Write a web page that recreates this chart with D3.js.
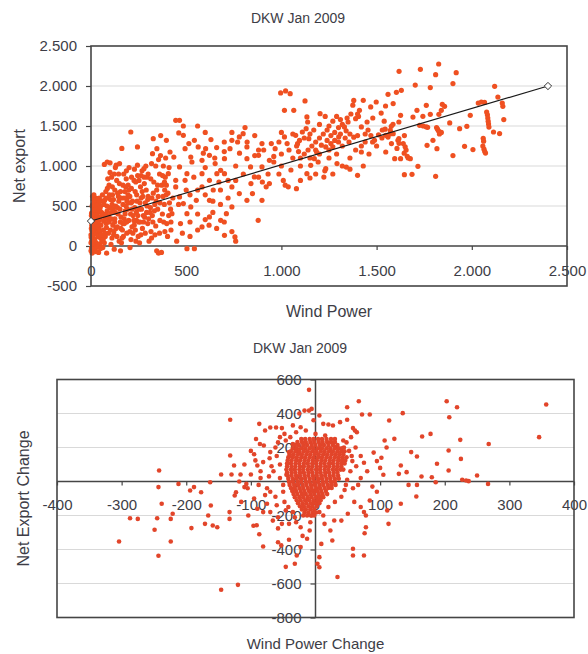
<!DOCTYPE html>
<html>
<head>
<meta charset="utf-8">
<script src="https://cdn.jsdelivr.net/npm/d3@7"></script>
<style>
  body { margin: 0; background: #fff; }
  svg { display: block; }
  text { font-family: "Liberation Sans", Arial, sans-serif; fill: #3d3d46; }
</style>
</head>
<body>
<svg id="chart" width="588" height="654"></svg>
<script>
// Hourly pairs for January 2009, DK West: [wind power, net export]
const powerVsExport = [
  // near-zero wind
  [0,-60],[5,-20],[10,20],[3,60],[12,100],[0,140],[8,180],[15,220],[4,260],[10,300],[18,340],[2,380],[9,420],[14,460],[6,500],[20,540],[11,580],[25,600],[30,560],[35,520],[28,480],[22,440],[32,400],[38,360],[26,320],[34,280],[40,240],[24,200],[30,160],[36,120],[20,80],[28,40],[16,0],[22,-40],[40,-80],[45,20],[50,100],[48,180],[52,260],[46,340],[55,420],[50,500],[58,560],[44,600],[6,-90],[0,40],[2,220],[8,620],[60,640],[15,640],
  [3,-30],[7,30],[12,70],[1,110],[17,150],[5,190],[13,250],[21,290],[7,330],[15,370],[3,410],[19,450],[27,490],[10,520],[23,570],[37,590],[42,550],[31,510],[47,470],[39,430],[25,390],[43,320],[31,240],[45,200],[53,140],[57,60],[35,-10],[26,-70],[50,-30],[57,380],
  // 60-300
  [62,-20],[70,40],[75,120],[65,200],[80,280],[72,360],[85,440],[68,520],[90,600],[78,680],[95,760],[88,840],[100,920],[82,-90],[96,300],[92,160],[98,480],[70,1020],[85,1050],[100,1040],
  [64,80],[73,160],[81,230],[67,310],[88,340],[76,400],[93,380],[84,500],[71,570],[97,640],[86,720],[103,580],[111,520],[117,460],[106,340],[124,300],[131,220],[119,140],[136,120],[102,200],[127,420],[139,480],[144,620],[125,700],[149,780],[155,680],[159,600],[152,460],[154,300],[157,220],[113,640],[108,860],[122,900],[65,400],[78,600],
  [105,20],[110,100],[120,180],[115,260],[125,340],[108,420],[130,500],[118,580],[140,660],[112,740],[135,820],[145,900],[128,980],[148,60],[138,240],[142,400],[132,1010],[150,1030],[122,-40],[146,560],
  [155,-60],[160,40],[170,120],[165,200],[175,280],[158,360],[180,440],[168,520],[190,600],[178,680],[195,760],[185,840],[172,900],[198,320],[188,160],[192,460],[162,1220],[200,980],[182,740],[196,540],
  [163,100],[167,280],[174,340],[179,400],[184,500],[189,560],[194,640],[199,700],[204,620],[211,540],[216,460],[221,380],[227,260],[233,200],[239,320],[246,380],[252,460],[257,540],[263,600],[269,680],[276,300],[282,360],[294,500],[298,580],[187,300],[173,600],[168,760],[186,940],[213,860],[226,820],[252,820],[263,880],[279,860],[204,180],[236,60],
  [205,-20],[210,80],[220,160],[215,240],[225,320],[208,400],[230,480],[218,560],[240,640],[212,720],[235,800],[245,880],[228,960],[209,1425],[248,120],[238,420],[242,560],[232,680],[244,1010],[250,300],
  [255,40],[262,140],[270,220],[258,300],[275,380],[265,460],[285,540],[272,620],[290,700],[280,780],[295,860],[268,940],[288,1000],[244,1238],[278,967],[298,280],[285,160],[292,420],[300,620],[260,740],
  // 300-420
  [305,60],[315,180],[325,300],[310,420],[335,520],[320,600],[345,700],[330,800],[360,900],[340,1000],[355,1080],[327,1342],[365,1130],[380,1000],[390,860],[372,760],[395,640],[385,520],[375,400],[398,280],[360,160],[345,-60],[355,-90],[370,-80],[392,1100],[366,1380],[318,1030],[350,460],[340,250],[388,180],
  [303,340],[312,480],[322,380],[333,440],[342,560],[353,620],[362,540],[378,620],[387,700],[396,760],[404,660],[412,540],[418,460],[408,380],[402,120],[382,300],[362,320],[336,140],[318,100],[327,660],[350,760],[376,880],[410,980],[300,900],[314,840],
  // 400-900
  [445,1571],[465,1571],[485,1500],[461,1413],[485,1383],[514,1280],[494,1217],[396,1321],[415,1175],[435,1112],[346,1217],[323,1154],[543,1321],[563,1238],[524,1112],[583,1071],[602,1217],[622,1134],[652,1030],[681,946],[740,1321],[770,1300],[730,1217],[701,1092],[799,1404],[809,1480],[779,1363],[819,1238],[701,904],[672,800],[642,700],[622,571],[583,738],[553,571],[524,488],[504,404],[445,738],[465,613],[485,530],[425,404],[406,904],[386,800],[445,821],[740,738],[779,655],[819,571],[848,655],[878,321],[740,488],[711,404],[681,321],[701,133],[756,113],[622,363],[583,238],[543,-33],[504,-33],[898,988],[937,1071],[898,571],[583,904],[622,821],[661,904],[504,904],[465,988],[494,821],[819,1092],[838,988],[858,863],
  [470,280],[520,300],[560,400],[600,330],[640,420],[680,520],[720,600],[760,820],[800,900],[840,780],[860,1130],[880,1200],[760,1000],[700,1180],[650,1100],[600,980],[540,860],[500,700],[460,520],[430,600],[420,300],[480,160],[520,120],[560,200],[620,260],[660,220],[700,300],[740,180],[760,60],[420,200],[450,60],[520,640],[560,700],[600,640],[640,560],[680,700],[720,820],[780,1160],[820,1300],[860,1380],[700,1300],[740,1420],[660,1230],[590,1160],[530,1050],[600,1420],[630,1330],[560,1500],
  // 900-1650
  [996,1913],[1022,1938],[1046,1904],[1016,1696],[1065,1696],[1124,1813],[1134,1613],[1138,1550],[1203,1654],[1110,1425],[1130,1467],[1144,1342],[1075,1383],[1095,1320],[1085,1279],[1016,1363],[987,1300],[967,1217],[947,1280],[898,1280],[880,1134],[907,1200],[880,860],[900,800],[920,740],[937,780],[987,900],[1010,820],[1036,740],[1020,760],[1079,717],[1100,820],[1134,904],[1154,1008],[1173,1092],[1185,1175],[1193,1050],[1233,1238],[1260,1280],[1280,1320],[1301,1363],[1223,862],[1228,940],[1233,967],[1292,1030],[1320,1000],[1341,987],[1331,1488],[1350,1550],[1365,1650],[1375,1760],[1380,1820],[1390,1592],[1400,1650],[1410,1696],[1405,1620],[1420,1488],[1440,1400],[1455,1450],[1470,1380],[1479,1300],[1489,1321],[1510,1390],[1528,1350],[1548,1383],[1400,883],[1430,1000],[1420,1175],[1498,1800],[1547,1750],[1587,1780],[1587,1404],[1617,1342],[1646,1380],[1617,1550],[1626,1633],[1548,1175],[1578,1280],[1607,1220],[1626,1092],[1666,1100],[1646,892],[1430,1821],[1469,1738],
  [1100,1100],[1120,1150],[1140,1200],[1160,1250],[1180,1300],[1200,1350],[1220,1400],[1240,1450],[1260,1380],[1280,1420],[1300,1480],[1320,1520],[1340,1440],[1360,1400],[1380,1360],[1300,1300],[1250,1200],[1200,1150],[1150,1100],[1100,1000],[1050,950],[1000,1000],[960,1050],[930,900],[1060,1100],[1090,1180],[1180,1200],[1210,1260],[1240,1320],[1270,1240],[1310,1400],[1335,1350],[1355,1300],[1290,1150],[1250,1100],[1320,1250],[1345,1600],[1310,1580],[1290,1620],[1270,1560],[1250,1500],[1230,1620],[1200,1520],[1170,1450],[1150,1400],[1120,1350],[1080,1250],[1040,1200],[1000,1150],[960,1120],[1030,1280],[1060,1400],[1000,1420],[1180,900],[1150,850],[1270,900],[1390,1200],[1360,1100],[1420,1250],[1460,1150],[1500,1250],[1530,1450],[1450,1550],[1480,1600],[1360,960],[1400,1380],[1440,1300],
  // high wind
  [1618,2184],[1730,2209],[1826,2275],[1810,2142],[1918,2167],[1901,2030],[1782,1980],[1703,2012],[1630,1946],[1604,1921],[1560,1896],[2120,1996],[2137,1862],[2160,1787],[2163,1746],[2168,1580],[2146,1405],[2114,1425],[2034,1787],[2050,1800],[2067,1795],[2078,1675],[2082,1640],[2084,1600],[2086,1560],[2088,1525],[2090,1487],[2060,1346],[2062,1310],[2058,1250],[2064,1210],[2068,1180],[2072,1162],[2006,1205],[1962,1246],[1974,1496],[1936,1467],[1992,1634],[1884,1538],[1901,1130],[1857,1746],[1845,1771],[1827,1646],[1840,1696],[1815,1480],[1825,1440],[1830,1400],[1820,1460],[1840,1420],[1817,1217],[1810,871],[1782,1646],[1726,1509],[1745,1500],[1760,1490],[1768,1484],[1765,1258],[1796,1321],[1717,996],[1686,896],[1677,1092],[1640,1280],[1650,1240],[1655,1200],[1661,1121],[1645,1160],[1612,1321],[1618,1283],[1595,1092],[1712,1696],[1691,1612],[1761,1758],[1524,1662],[1540,1560],[1545,1460],[1560,1362],[1570,1400],[1572,1446],[1577,1496],[1586,1521],[1743,1621]
];
// Linear trend, drawn between its two end markers
const trendEnds = [[0, 312], [2400, 2000]];
const powerTicks = [0, 500, 1000, 1500, 2000, 2500];
const exportTicks = [-500, 0, 500, 1000, 1500, 2000, 2500];

// Hour-to-hour changes: [wind power change, net export change]
const changePairs = [
  [-242,65],[-243,-33],[-238,-131],[-245,-216],[-249,-284],[-243,-437],[-224,-353],[-224,-220],[-221,-190],[-212,-14],[-194,-53],[-188,-33],[-177,-63],[-192,-274],[-171,-249],[-166,-200],[-162,-141],[-159,-259],[-152,-269],[-163,-4],[-146,41],[-304,-353],[-287,-216],[-275,-220],[-146,-637],[-120,-608],[-132,363],[-132,153],[-126,94],[-130,41],[-133,-180],[-133,-220],[-125,-82],[-123,-63],[-116,41],[-110,-33],[-107,-14],[-100,41],[-87,339],[-81,114],[-90,94],[-93,124],[-86,221],[-80,212],[-70,173],[-71,137],
  [-78,300],[-70,318],[-61,318],[-52,314],[-55,261],[-46,241],[-39,261],[-35,221],[-41,173],[-29,182],[-23,319],[-17,417],[-10,417],[-6,427],[-10,539],[6,388],[12,339],[20,335],[27,329],[38,349],[49,363],[58,314],[64,290],[32,202],[43,241],[55,261],[61,300],[67,472],[49,437],[72,394],[84,394],[114,359],[135,402],[122,251],[107,241],[148,173],[157,147],[165,265],[178,280],[188,104],[206,65],[206,182],[224,245],[225,133],[203,472],[207,378],[219,437],[227,10],[233,6],[237,2],[250,35],[267,-14],[268,221],[346,261],[357,453],[132,94],[141,55],[129,45],[144,-20],[157,-20],[156,-88],[132,-131],[164,29],[180,25],[186,-4],[113,-249],[111,-170],[84,-112],[78,-200],[78,-269],[75,-180],[76,-304],[58,-396],[58,-435],[75,-435],[34,-562],
  [6,-180],[14,-249],[23,-288],[29,-229],[26,-347],[9,-367],[6,-445],[3,-484],[6,-504],[-2,-55],[2,-131],[5,-112],
  [-46,-502],[-32,-484],[-29,-435],[-23,-386],[-41,-343],[-58,-357],[-53,-376],[-81,-382],[-87,-310],[-91,-257],[-23,-269],[-9,-288],[-13,-337],[-19,-200],[-6,-200],[-81,-180],[-75,-131],[-70,-180],[-58,-210],[-46,-170],[-58,-276],[-52,-249],[-41,-249],[-32,-210],
  [-104,-200],[-96,-260],[-90,-160],[-62,-90],[-75,-40],[-85,20],[-65,60],[-55,100],[-50,-20],[-45,40],[-40,150],[-62,200],[-100,180],[-110,100],[-95,-100],[-115,-120],
  [-60,150],[-55,20],[-50,-60],[-48,-120],[-42,-150],[-35,-180],[-60,-140],[-70,-60],[-72,30],[-68,90],[-58,230],[-48,280],[-30,290],[-15,300],[0,280],[15,270],[30,250],[48,230],[62,200],[70,150],[75,110],[80,60],[70,20],[66,-20],[58,-40],[45,-50],[40,-90],[30,-120],[20,-150],[12,-200],[-30,-240],[-20,-320],[-8,-240],[90,170],[95,120],[100,80],[105,40],[88,-30],[95,-60],[60,-120],[70,-150],[50,-190],[40,-230],[102,140],[110,200],[-85,60],[-78,-80],[-88,-20],[-95,160],[-105,-40],[-118,0],[-92,250],[-66,-230],[-3,360],[-25,400],[-35,330],
  [52,180],[57,120],[54,60],[49,10],[47,-20],[56,150],[63,90],[44,200]
];
// Crowded core around zero: rows of [net export change, wind power changes]
const coreRows = [
  [250, [-22,-16,-9,-3,4,10,17,24]],
  [232, [-28,-21,-15,-8,-2,5,11,18,24,30]],
  [214, [-32,-26,-19,-13,-6,0,7,13,20,27,34]],
  [196, [-35,-29,-22,-16,-9,-3,4,10,17,23,30,36,41]],
  [178, [-38,-31,-25,-18,-12,-5,1,8,14,21,27,34,40,45]],
  [160, [-40,-34,-27,-21,-14,-8,-1,5,12,18,25,31,37,43]],
  [142, [-42,-35,-29,-22,-16,-9,-3,4,10,17,23,30,36,42,48]],
  [124, [-43,-37,-30,-24,-17,-11,-4,2,9,15,22,28,35,41,46]],
  [106, [-44,-38,-31,-25,-18,-12,-5,1,8,14,21,27,34,40,45]],
  [88,  [-44,-37,-31,-24,-18,-11,-5,2,8,15,21,28,34,40]],
  [70,  [-45,-38,-32,-25,-19,-12,-6,1,7,14,20,27,33,39,43]],
  [52,  [-44,-37,-31,-24,-18,-11,-5,2,8,15,21,28,34]],
  [34,  [-43,-37,-30,-24,-17,-11,-4,2,9,15,22,28,35]],
  [16,  [-42,-35,-29,-22,-16,-9,-3,4,10,17,23,30,36]],
  [-2,  [-41,-35,-28,-22,-15,-9,-2,4,11,17,24,30]],
  [-20, [-40,-33,-27,-20,-14,-7,-1,6,12,19,25,31]],
  [-38, [-38,-32,-25,-19,-12,-6,1,7,14,20,25]],
  [-56, [-36,-30,-23,-17,-10,-4,3,9,16]],
  [-74, [-34,-28,-21,-15,-8,-2,5,11,18]],
  [-92, [-32,-25,-19,-12,-6,1,7,12]],
  [-110,[-29,-23,-16,-10,-3,3,8]],
  [-128,[-27,-20,-14,-7,-1,6]],
  [-146,[-24,-18,-11,-5,2]],
  [-164,[-21,-15,-8,-2]],
  [-182,[-17,-11,-4,1]],
  [-200,[-13,-7,-2]]
];
const windChangeTicks = [-400, -300, -200, -100, 0, 100, 200, 300, 400];
const exportChangeTicks = [-800, -600, -400, -200, 0, 200, 400, 600];

const chartTitle = "DKW Jan 2009";

const fmt = d3.formatLocale({ decimal: ",", thousands: ".", grouping: [3], currency: ["", ""], minus: "-" }).format(",");
const svg = d3.select("#chart");

const gridColor = "#d9d9d9";
const frameColor = "#454545";

function styleAxis(g, size) {
  g.select(".domain").remove();
  g.selectAll(".tick line").attr("stroke", frameColor).attr("stroke-width", 1.2);
  g.selectAll(".tick text").attr("font-size", size).attr("fill", "#3d3d46")
    .attr("font-family", "'Liberation Sans', Arial, sans-serif");
}

// ---------- Top: wind power vs net export ----------
{
  const x = d3.scaleLinear().domain([0, 2500]).range([91, 567]);
  const y = d3.scaleLinear().domain([-500, 2500]).range([286, 46]);

  svg.append("text").attr("x", 298).attr("y", 19).attr("text-anchor", "middle")
    .attr("dominant-baseline", "middle").attr("font-size", 14).text(chartTitle);

  svg.append("g").selectAll("line").data(exportTicks.filter(v => v > 0 && v < 2500)).join("line")
    .attr("x1", x(0)).attr("x2", x(2500)).attr("y1", d => y(d)).attr("y2", d => y(d))
    .attr("stroke", gridColor).attr("stroke-width", 1);

  const ya = svg.append("g").attr("transform", `translate(${x(0)},0)`)
    .call(d3.axisLeft(y).tickValues(exportTicks).tickFormat(fmt).tickSize(5).tickPadding(9));
  styleAxis(ya, 15);

  const xa = svg.append("g").attr("transform", `translate(0,${y(0)})`)
    .call(d3.axisBottom(x).tickValues(powerTicks).tickFormat(fmt).tickSize(4).tickPadding(15));
  styleAxis(xa, 15);

  svg.append("line").attr("x1", x(0)).attr("x2", x(2500)).attr("y1", y(0)).attr("y2", y(0))
    .attr("stroke", frameColor).attr("stroke-width", 1.5);

  svg.append("g").selectAll("circle").data(powerVsExport).join("circle")
    .attr("cx", d => x(d[0])).attr("cy", d => y(d[1])).attr("r", 2.6).attr("fill", "#ef5021");

  svg.append("rect").attr("x", x(0)).attr("y", y(2500)).attr("width", x(2500) - x(0)).attr("height", y(-500) - y(2500))
    .attr("fill", "none").attr("stroke", frameColor).attr("stroke-width", 1.6);

  svg.append("path").datum(trendEnds)
    .attr("d", d3.line().x(d => x(d[0])).y(d => y(d[1])))
    .attr("stroke", "#1a1a1a").attr("stroke-width", 1.2).attr("fill", "none");
  svg.append("g").selectAll("path").data(trendEnds).join("path")
    .attr("d", d3.symbol(d3.symbolDiamond2, 34))
    .attr("transform", d => `translate(${x(d[0])},${y(d[1])})`)
    .attr("fill", "#fff").attr("stroke", "#333").attr("stroke-width", 1);

  svg.append("text").attr("transform", `translate(21,${(y(-500) + y(2500)) / 2}) rotate(-90)`)
    .attr("text-anchor", "middle").attr("dominant-baseline", "middle").attr("font-size", 16).text("Net export");
  svg.append("text").attr("x", (x(0) + x(2500)) / 2).attr("y", 313).attr("text-anchor", "middle")
    .attr("dominant-baseline", "middle").attr("font-size", 16).text("Wind Power");
}

// ---------- Bottom: wind power change vs net export change ----------
{
  const x = d3.scaleLinear().domain([-400, 400]).range([57, 574]);
  const y = d3.scaleLinear().domain([-800, 600]).range([617.5, 379.5]);
  const core = coreRows.flatMap(([ne, ws]) => ws.map(w => [w, ne]));

  svg.append("text").attr("x", 300).attr("y", 349).attr("text-anchor", "middle")
    .attr("dominant-baseline", "middle").attr("font-size", 14).text(chartTitle);

  svg.append("g").selectAll("line").data(exportChangeTicks.filter(v => v !== 0 && v > -800 && v < 600)).join("line")
    .attr("x1", x(-400)).attr("x2", x(400)).attr("y1", d => y(d)).attr("y2", d => y(d))
    .attr("stroke", gridColor).attr("stroke-width", 1);

  const xa = svg.append("g").attr("transform", `translate(0,${y(0)})`)
    .call(d3.axisBottom(x).tickValues(windChangeTicks).tickFormat(d3.format("d")).tickSize(4).tickPadding(14));
  styleAxis(xa, 15);
  xa.selectAll(".tick text").text(d => String(d));

  const ya = svg.append("g").attr("transform", `translate(${x(0)},0)`)
    .call(d3.axisLeft(y).tickValues(exportChangeTicks).tickSize(5).tickPadding(9));
  styleAxis(ya, 15);
  ya.selectAll(".tick text").text(d => String(d));

  svg.append("line").attr("x1", x(-400)).attr("x2", x(400)).attr("y1", y(0)).attr("y2", y(0))
    .attr("stroke", frameColor).attr("stroke-width", 1.5);
  svg.append("line").attr("x1", x(0)).attr("x2", x(0)).attr("y1", y(600)).attr("y2", y(-800))
    .attr("stroke", frameColor).attr("stroke-width", 1.5);

  svg.append("g").selectAll("circle").data(changePairs.concat(core)).join("circle")
    .attr("cx", d => x(d[0])).attr("cy", d => y(d[1])).attr("r", 2.3).attr("fill", "#e2452a");

  svg.append("rect").attr("x", x(-400)).attr("y", y(600)).attr("width", x(400) - x(-400)).attr("height", y(-800) - y(600))
    .attr("fill", "none").attr("stroke", frameColor).attr("stroke-width", 1.6);

  svg.append("text").attr("transform", `translate(25,${(y(-800) + y(600)) / 2}) rotate(-90)`)
    .attr("text-anchor", "middle").attr("dominant-baseline", "middle").attr("font-size", 16).text("Net Export Change");
  svg.append("text").attr("x", (x(-400) + x(400)) / 2).attr("y", 645).attr("text-anchor", "middle")
    .attr("dominant-baseline", "middle").attr("font-size", 15).text("Wind Power Change");
}
</script>
</body>
</html>
